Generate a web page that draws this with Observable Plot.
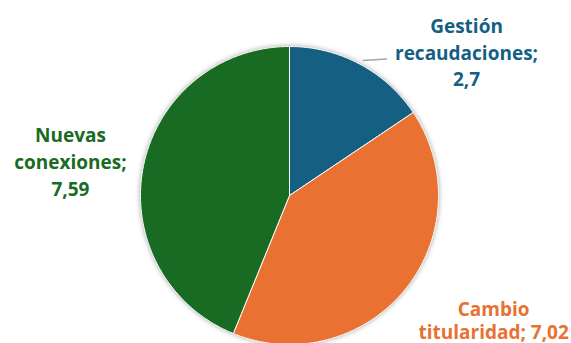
<!DOCTYPE html>
<html>
<head>
<meta charset="utf-8">
<script src="https://cdn.jsdelivr.net/npm/d3@7"></script>
<script src="https://cdn.jsdelivr.net/npm/@observablehq/plot@0.6"></script>
<style>
  html, body { margin: 0; padding: 0; background: #fff; }
  #chart svg { display: block; overflow: hidden; }
  g[aria-label="line"] { filter: drop-shadow(0 0 2.5px rgba(0,0,0,0.35)); }
</style>
</head>
<body>
<div id="chart"></div>
<script>
// ---- data ----
const categories = ["Gestión recaudaciones", "Cambio titularidad", "Nuevas conexiones"];
const values = [2.7, 7.02, 7.59];
const valueLabels = ["2,7", "7,02", "7,59"];
const labelTexts = ["Gestión\nrecaudaciones;\n2,7", "Cambio\ntitularidad; 7,02", "Nuevas\nconexiones;\n7,59"];
const colors = ["#156082", "#E97132", "#196B24"];

// ---- layout (not data) ----
const labelPos = [
  {x: 1.188, y: 0.968, lh: 1.4},
  {x: 1.37, y: -0.835, lh: 1.25},
  {x: -1.47, y: 0.235, lh: 1.4}
];

// slice polygons from d3.pie angles (clockwise from 12 o'clock)
const arcs = d3.pie().sort(null).value(d => d)(values);
const slicePts = [];
arcs.forEach((a, i) => {
  const cat = categories[i];
  slicePts.push({cat, x: 0, y: 0});
  const n = Math.max(2, Math.ceil((a.endAngle - a.startAngle) / (Math.PI / 360)));
  for (let k = 0; k <= n; k++) {
    const t = a.startAngle + (a.endAngle - a.startAngle) * k / n;
    slicePts.push({cat, x: Math.sin(t), y: Math.cos(t)});
  }
  slicePts.push({cat, x: 0, y: 0});
});

const labels = categories.map((c, i) => ({cat: c, text: labelTexts[i], ...labelPos[i]}));

const colorScale = {domain: categories, range: colors};

const marks = [
  Plot.line(slicePts, {x: "x", y: "y", z: "cat", fill: "cat", stroke: "white", strokeWidth: 1, curve: "linear"}),
  Plot.link([{x1: 0.49, y1: 0.906, x2: 0.655, y2: 0.916}], {x1: "x1", y1: "y1", x2: "x2", y2: "y2", stroke: "#a6a6a6", strokeWidth: 1.5}),
];
labels.forEach(l => {
  marks.push(Plot.text([l], {
    x: "x", y: "y", text: "text", fill: d => d.cat,
    fontSize: 19, fontWeight: 700, lineHeight: l.lh,
    textAnchor: "middle", lineAnchor: "middle"
  }));
});

const chart = Plot.plot({
  width: 571,
  height: 343,
  marginLeft: 140,
  marginRight: 133,
  marginTop: 46,
  marginBottom: 0,
  x: {domain: [-1, 1], axis: null},
  y: {domain: [-0.993, 1], axis: null},
  color: colorScale,
  style: {fontFamily: "'Open Sans', sans-serif", background: "#fff"},
  marks
});
document.getElementById("chart").appendChild(chart);
</script>
</body>
</html>
